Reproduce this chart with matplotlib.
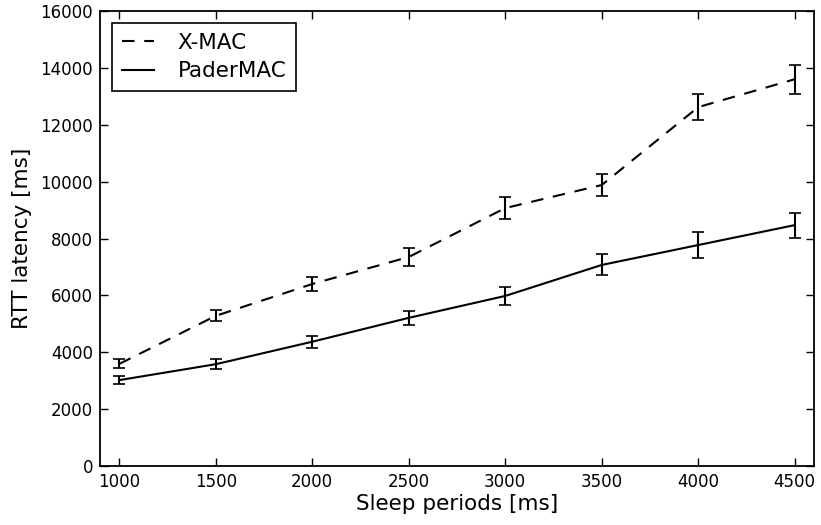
import matplotlib
matplotlib.use("Agg")
import matplotlib.pyplot as plt

# Sleep period on the x axis
sleep_periods = [1000, 1500, 2000, 2500, 3000, 3500, 4000, 4500]

# RTT latency means and error half-widths (ms)
xmac_rtt = [3590, 5280, 6400, 7350, 9070, 9880, 12620, 13600]
xmac_err = [160, 190, 260, 330, 400, 390, 460, 510]
padermac_rtt = [3020, 3580, 4370, 5210, 5980, 7070, 7770, 8470]
padermac_err = [135, 175, 205, 245, 315, 370, 470, 440]

plt.rcParams['font.family'] = ['DejaVu Sans']
plt.rcParams['lines.scale_dashes'] = False
plt.rcParams['xtick.direction'] = 'in'
plt.rcParams['ytick.direction'] = 'in'

fig = plt.figure(figsize=(8.21, 5.25), dpi=100)
ax = fig.add_axes([100 / 821, 1 - 466 / 525, 714 / 821, 455 / 525])

eb1 = ax.errorbar(sleep_periods, xmac_rtt, yerr=xmac_err, color='black',
                  linestyle=(0, (9, 7)), linewidth=1.5, capsize=4.5,
                  elinewidth=1.5, capthick=1.2)
eb2 = ax.errorbar(sleep_periods, padermac_rtt, yerr=padermac_err, color='black',
                  linestyle='-', linewidth=1.5, capsize=4.5,
                  elinewidth=1.5, capthick=1.2)

ax.set_xlim(900, 4600)
ax.set_ylim(0, 16000)
ax.set_xticks(sleep_periods)
ax.set_yticks(range(0, 16001, 2000))
ax.tick_params(labelsize=12, length=6, width=1, top=True, right=True, pad=5)
for s in ax.spines.values():
    s.set_linewidth(1.3)

ax.set_xlabel('Sleep periods [ms]', fontsize=15.5, labelpad=2)
ax.set_ylabel('RTT latency [ms]', fontsize=15.5, labelpad=6)

# legend shows just the lines, not the error bars
leg = ax.legend([eb1.lines[0], eb2.lines[0]], ['X-MAC', 'PaderMAC'],
                loc='upper left', fontsize=15.5, fancybox=False,
                framealpha=1, edgecolor='black', handlelength=1.5,
                handletextpad=1.1, borderaxespad=0.55, borderpad=0.45,
                labelspacing=0.4)
leg.get_frame().set_linewidth(1.2)

fig.savefig('out.png', dpi=100)
